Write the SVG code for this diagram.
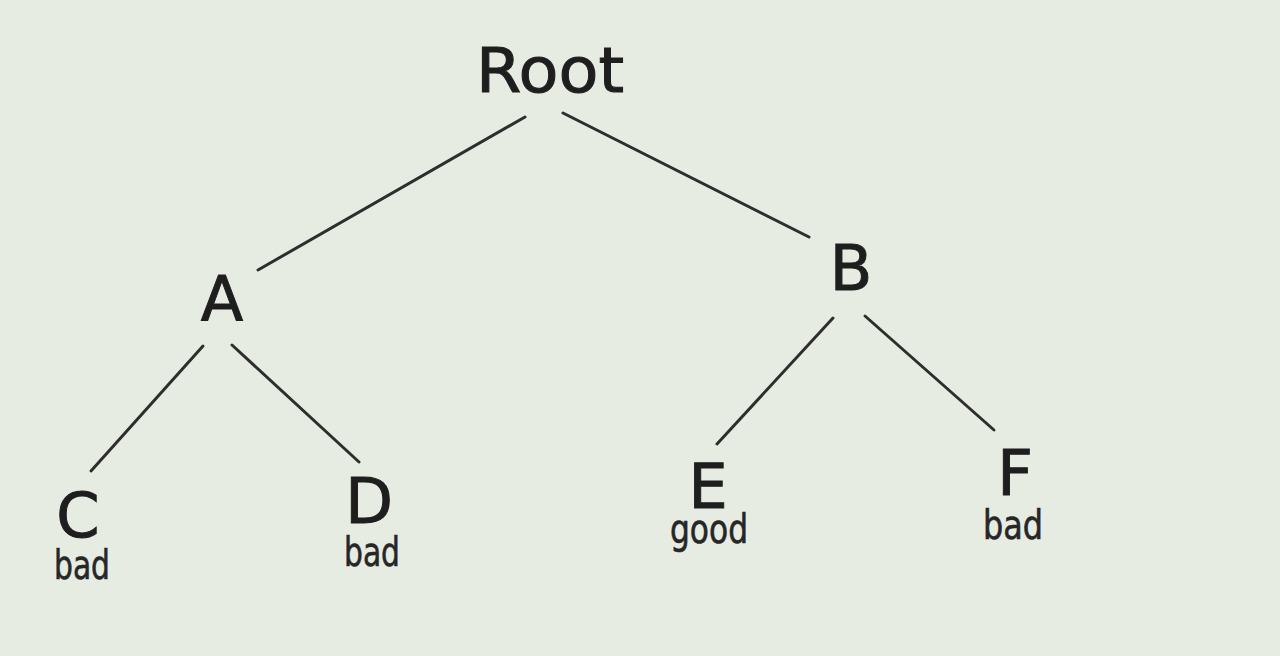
<svg xmlns="http://www.w3.org/2000/svg" width="1280" height="656" viewBox="0 0 1280 656">
<style>
.lbl{font-family:"DejaVu Sans","Liberation Sans",sans-serif;font-size:62px;fill:#1e1e1e;stroke:#1e1e1e;stroke-width:1;text-anchor:middle}
.sub{font-family:"DejaVu Sans Condensed","DejaVu Sans",sans-serif;font-size:40px;fill:#262626;stroke:#262626;stroke-width:0.6;text-anchor:middle}
.edge{stroke:#2e2e2e;stroke-width:3;stroke-linecap:round;fill:none}
</style>
<rect width="1280" height="656" fill="#e7ece3"/>
<g id="connectors">
<line class="edge" x1="525" y1="117" x2="258" y2="270"/>
<line class="edge" x1="563" y1="113" x2="809" y2="237"/>
<line class="edge" x1="203" y1="346" x2="91" y2="471"/>
<line class="edge" x1="232" y1="345" x2="359" y2="462"/>
<line class="edge" x1="833" y1="318" x2="717" y2="444"/>
<line class="edge" x1="865" y1="316" x2="994" y2="430"/>
</g>
<g id="root"><text class="lbl" x="550" y="92" textLength="148" lengthAdjust="spacingAndGlyphs">Root</text></g>
<g id="A"><text class="lbl" x="222" y="321">A</text></g>
<g id="B"><text class="lbl" x="851" y="290">B</text></g>
<g id="C"><text class="lbl" x="78" y="537">C</text><text class="sub" x="82" y="579" textLength="56" lengthAdjust="spacingAndGlyphs">bad</text></g>
<g id="D"><text class="lbl" x="369" y="523">D</text><text class="sub" x="372" y="566" textLength="56" lengthAdjust="spacingAndGlyphs">bad</text></g>
<g id="E"><text class="lbl" x="708" y="508">E</text><text class="sub" x="709" y="543" textLength="78" lengthAdjust="spacingAndGlyphs">good</text></g>
<g id="F"><text class="lbl" x="1015" y="495">F</text><text class="sub" x="1013" y="539" textLength="60" lengthAdjust="spacingAndGlyphs">bad</text></g>
</svg>
